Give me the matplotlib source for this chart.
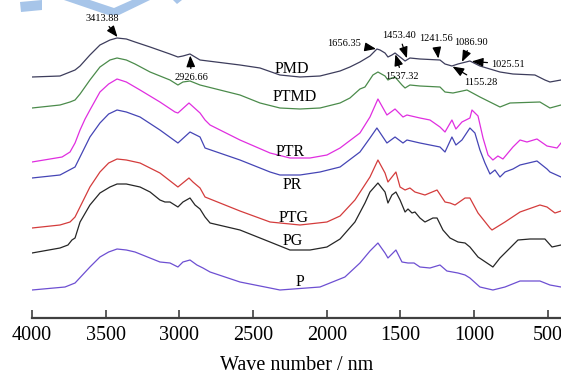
import numpy as np
import matplotlib
matplotlib.use("Agg")
import matplotlib.pyplot as plt
from matplotlib.patches import Polygon

plt.rcParams['font.family'] = ['Liberation Serif', 'DejaVu Serif']

# spectra: wave number and relative transmittance (a.u.)
pmd_wn = [4000, 3810, 3742, 3708, 3674, 3607, 3539, 3471, 3423, 3360, 3301, 3199, 3064, 3010, 2976, 2928, 2894, 2860,
          2589, 2453, 2318, 2182, 2046, 1910, 1843, 1775, 1707, 1660, 1639, 1605, 1585, 1558, 1537, 1503, 1469,
          1436, 1368, 1232, 1198, 1151, 1110, 1083, 1029, 961, 825, 737, 588, 520, 486, 411]
pmd_t = [241, 242, 246, 248, 252, 263, 273, 278, 280, 279, 276, 271, 264, 261, 262, 264, 261, 258,
         253, 250, 243, 241, 242, 247, 251, 256, 262, 269, 268, 265, 261, 263, 265, 261, 257,
         260, 259, 258, 254, 252, 254, 255, 257, 252, 246, 244, 243, 238, 236, 238]

ptmd_wn = [4000, 3810, 3742, 3708, 3674, 3607, 3539, 3471, 3423, 3360, 3301, 3199, 3064, 3010, 2976, 2928, 2894, 2860,
           2589, 2453, 2318, 2182, 2046, 1910, 1843, 1775, 1741, 1687, 1653, 1605, 1585, 1558, 1537, 1490, 1469,
           1436, 1368, 1232, 1198, 1144, 1049, 961, 893, 825, 757, 554, 486, 411]
ptmd_t = [210, 213, 216, 218, 224, 238, 251, 258, 260, 258, 254, 246, 238, 233, 236, 237, 235, 233,
          223, 215, 210, 209, 210, 215, 220, 229, 231, 243, 246, 242, 238, 240, 241, 233, 230,
          233, 232, 231, 226, 225, 228, 221, 216, 211, 215, 216, 210, 213]

ptr_wn = [4000, 3796, 3742, 3708, 3674, 3640, 3607, 3539, 3480, 3423, 3360, 3267, 3132, 3030, 3010, 2935, 2860, 2826,
          2792, 2589, 2385, 2250, 2114, 1999, 1910, 1775, 1707, 1653, 1592, 1537, 1483, 1456, 1368, 1300, 1232,
          1198, 1151, 1124, 1083, 1029, 1015, 974, 940, 906, 873, 839, 805, 737, 689, 642, 574, 506, 438, 411]
ptr_t = [156, 161, 166, 175, 188, 199, 208, 226, 234, 239, 236, 228, 216, 206, 205, 215, 205, 198,
         193, 178, 165, 160, 160, 163, 170, 185, 201, 219, 203, 209, 201, 203, 200, 198, 191,
         186, 198, 189, 196, 200, 208, 202, 180, 163, 158, 162, 159, 171, 178, 176, 179, 172, 170, 175]

pr_wn = [4000, 3810, 3708, 3607, 3539, 3480, 3423, 3360, 3267, 3132, 3010, 2928, 2860, 2826, 2589, 2385, 2318,
         2182, 2046, 1910, 1775, 1707, 1660, 1592, 1537, 1483, 1456, 1368, 1232, 1198, 1151, 1124, 1083,
         1029, 995, 961, 927, 893, 859, 825, 791, 737, 689, 574, 506, 486, 411]
pr_t = [140, 143, 151, 181, 195, 204, 208, 206, 201, 188, 175, 186, 181, 170, 158, 146, 143,
        143, 146, 151, 166, 180, 190, 175, 181, 175, 178, 175, 171, 166, 181, 173, 178,
        190, 185, 168, 155, 144, 148, 141, 146, 149, 153, 157, 149, 146, 141]

ptg_wn = [4000, 3810, 3742, 3708, 3607, 3539, 3480, 3423, 3360, 3267, 3132, 3010, 2935, 2908, 2860, 2826, 2589,
          2385, 2182, 1999, 1910, 1809, 1707, 1653, 1605, 1585, 1531, 1503, 1469, 1436, 1402, 1334, 1252,
          1198, 1164, 1130, 1062, 1029, 974, 893, 879, 791, 689, 554, 506, 452, 411]
ptg_t = [90, 93, 96, 101, 131, 146, 155, 159, 158, 155, 145, 131, 140, 136, 130, 121, 107,
         96, 93, 96, 102, 118, 141, 158, 145, 136, 146, 131, 128, 130, 126, 123, 128,
         116, 115, 113, 120, 120, 105, 90, 88, 96, 106, 113, 111, 105, 107]

pg_wn = [4000, 3810, 3756, 3729, 3708, 3674, 3607, 3539, 3471, 3423, 3360, 3267, 3199, 3132, 3098, 3064, 3010,
         2976, 2928, 2894, 2860, 2826, 2792, 2589, 2385, 2250, 2114, 1999, 1910, 1809, 1741, 1707, 1653,
         1605, 1585, 1558, 1531, 1503, 1469, 1449, 1422, 1402, 1368, 1334, 1280, 1252, 1212, 1164, 1110,
         1062, 1029, 974, 893, 873, 825, 757, 703, 621, 520, 472, 411]
pg_t = [65, 70, 73, 78, 80, 96, 113, 125, 131, 134, 134, 131, 126, 118, 116, 116, 111,
        116, 120, 113, 109, 101, 95, 88, 76, 68, 68, 71, 79, 96, 115, 126, 135,
        126, 115, 123, 126, 118, 106, 109, 105, 106, 100, 96, 100, 100, 88, 80, 76,
        75, 71, 61, 53, 51, 60, 70, 78, 79, 79, 71, 73]

p_wn = [4000, 3776, 3708, 3607, 3539, 3480, 3423, 3360, 3301, 3132, 3064, 3010, 2976, 2928, 2881, 2840, 2792,
        2589, 2385, 2318, 2046, 1877, 1775, 1707, 1653, 1605, 1585, 1531, 1490, 1449, 1408, 1368, 1300,
        1232, 1185, 1110, 1062, 1029, 961, 873, 791, 689, 554, 486, 411]
p_t = [28, 31, 35, 51, 61, 66, 69, 68, 66, 56, 55, 51, 56, 58, 53, 50, 46,
       36, 30, 28, 31, 41, 55, 67, 75, 65, 60, 68, 56, 55, 55, 51, 50,
       53, 47, 45, 43, 40, 31, 28, 31, 37, 37, 33, 31]

names = ["PMD", "PTMD", "PTR", "PR", "PTG", "PG", "P"]
colors = ["#3d3d5c", "#4b8b4b", "#e02ee0", "#4545b5", "#d43c3c", "#262626", "#6d4fd2"]
series = [(pmd_wn, pmd_t), (ptmd_wn, ptmd_t), (ptr_wn, ptr_t), (pr_wn, pr_t),
          (ptg_wn, ptg_t), (pg_wn, pg_t), (p_wn, p_t)]
label_pos = [(2236, 249), (2216, 221), (2250, 166), (2236, 133), (2223, 100), (2230, 77), (2182, 36)]

# marked peaks on PMD: wave number, text offset in pixels
peaks = [3413.88, 2926.66, 1656.35, 1537.32, 1453.40, 1241.56, 1155.28, 1086.90, 1025.51]
peak_off = [(-16, 20), (1, -23), (-33, 6), (7, -23), (-8, 24), (-3, 21), (29, -17), (10, 21), (38, -3)]

fig = plt.figure(figsize=(5.61, 3.78), dpi=100)
ax = fig.add_axes([32 / 561, 60 / 378, 1 - 32 / 561, 318 / 378])
ax.set_facecolor("none")

for (wn, t), c in zip(series, colors):
    ax.plot(wn, t, color=c, lw=0.9)

for name, (x, y) in zip(names, label_pos):
    ax.text(x, y, name, fontsize=11.5, ha="center", va="center")

wn_r = np.array(pmd_wn[::-1])
t_r = np.array(pmd_t[::-1])
for pk, off in zip(peaks, peak_off):
    yy = np.interp(pk, wn_r, t_r)
    ax.annotate("%.2f" % pk, xy=(pk, yy), xytext=off, textcoords="offset pixels",
                fontsize=7.5, ha="center", va="center",
                arrowprops=dict(arrowstyle="-|>,head_length=0.9,head_width=0.35",
                                color="k", lw=0.9, shrinkA=1, shrinkB=1))

ax.set_xlim(4000, 411)
ax.set_ylim(0, 318)
for s in ["top", "right", "left"]:
    ax.spines[s].set_visible(False)
ax.spines["bottom"].set_linewidth(1.6)
ax.spines["bottom"].set_color("#404040")
ax.set_yticks([])
ax.set_xticks([4000, 3500, 3000, 2500, 2000, 1500, 1000, 500])
ax.tick_params(axis="x", direction="in", length=6, width=1.2, color="#404040",
               labelsize=14.5, pad=6)
ax.set_xlabel("Wave number / nm", fontsize=14.5, labelpad=8)

# light blue watermark pieces at the top
wm = [[(20, 2), (42, 0), (42, 10), (21, 12)],
      [(64, 0), (90, 0), (114, 8), (132, 0), (150, 0), (119, 15), (108, 15)],
      [(173, 0), (182, 0), (177, 4)]]
for poly in wm:
    pts = [(x / 561, 1 - y / 378) for x, y in poly]
    fig.add_artist(Polygon(pts, closed=True, transform=fig.transFigure,
                           facecolor="#a7c5e9", edgecolor="none", zorder=0))

fig.savefig("out.png", dpi=100)
